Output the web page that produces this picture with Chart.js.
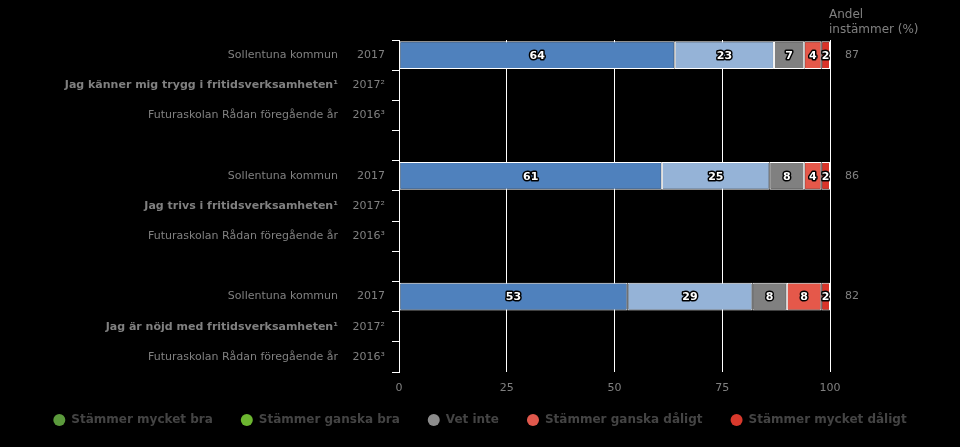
<!DOCTYPE html>
<html>
<head>
<meta charset="utf-8">
<script src="https://cdn.jsdelivr.net/npm/chart.js@4.4.0/dist/chart.umd.min.js"></script>
<style>
  html, body { margin: 0; padding: 0; background: #000; }
</style>
</head>
<body>
<canvas id="myChart" width="960" height="447"></canvas>
<script>
// rows of the chart, top to bottom (empty rows are spacers)
const names = ['Sollentuna kommun', 'Jag känner mig trygg i fritidsverksamheten¹', 'Futuraskolan Rådan föregående år', '',
               'Sollentuna kommun', 'Jag trivs i fritidsverksamheten¹', 'Futuraskolan Rådan föregående år', '',
               'Sollentuna kommun', 'Jag är nöjd med fritidsverksamheten¹', 'Futuraskolan Rådan föregående år']
const years = ['2017', '2017²', '2016³', '',
               '2017', '2017²', '2016³', '',
               '2017', '2017²', '2016³']

const seriesNames = ['Stämmer mycket bra', 'Stämmer ganska bra', 'Vet inte', 'Stämmer ganska dåligt', 'Stämmer mycket dåligt']
const mycketBra    = [64, null, null, null, 61, null, null, null, 53, null, null]
const ganskaBra    = [23, null, null, null, 25, null, null, null, 29, null, null]
const vetInte      = [7, null, null, null, 8, null, null, null, 8, null, null]
const ganskaDaligt = [4, null, null, null, 4, null, null, null, 8, null, null]
const mycketDaligt = [2, null, null, null, 2, null, null, null, 2, null, null]
const andel        = [87, null, null, null, 86, null, null, null, 82, null, null]
const xTicks = [0, 25, 50, 75, 100]

const barColors = ['#4f81bd', '#95b3d7', '#808080', '#e5584a', '#d9342a']
const legendColors = ['#5b9a3c', '#6cb630', '#8c8c8c', '#e0584c', '#d8392c']

Chart.defaults.font.family = '"DejaVu Sans"'

const barLabels = {
    id: 'barLabels',
    afterDatasetsDraw(chart) {
        const ctx = chart.ctx
        ctx.save()
        ctx.font = 'bold 11px "DejaVu Sans"'
        ctx.textAlign = 'center'
        ctx.textBaseline = 'middle'
        ctx.lineJoin = 'round'
        chart.data.datasets.forEach((ds, i) => {
            chart.getDatasetMeta(i).data.forEach((bar, j) => {
                const v = ds.data[j]
                if (v == null) return
                const x = (bar.x + bar.base) / 2
                ctx.lineWidth = 3
                ctx.strokeStyle = '#000'
                ctx.strokeText(v, x, bar.y + 1)
                ctx.fillStyle = '#fff'
                ctx.fillText(v, x, bar.y + 1)
            })
        })

        // right hand column
        const area = chart.chartArea
        const y = chart.scales.y
        ctx.textAlign = 'left'
        ctx.fillStyle = '#808080'
        ctx.font = '12px "DejaVu Sans"'
        ctx.fillText('Andel', area.right - 1, 15)
        ctx.fillText('instämmer (%)', area.right - 1, 30)
        ctx.font = '11px "DejaVu Sans"'
        ctx.textAlign = 'center'
        andel.forEach((v, i) => {
            if (v == null) return
            ctx.fillText(v, area.right + 22, y.getPixelForValue(i))
        })
        ctx.restore()
    }
}

// move the legend a bit closer to the axis
const legendShift = {
    id: 'legendShift',
    afterLayout(chart) {
        chart.legend.top -= 11
        chart.legend.bottom -= 11
    }
}

const ctx = document.getElementById('myChart')
const data = [mycketBra, ganskaBra, vetInte, ganskaDaligt, mycketDaligt]

new Chart(ctx, {
    type: 'bar',
    data: {
        labels: names,
        datasets: seriesNames.map((n, i) => ({
            label: n,
            data: data[i],
            backgroundColor: barColors[i],
            borderColor: '#fff',
            borderWidth: 1,
            borderSkipped: false,
            categoryPercentage: 1,
            barPercentage: 0.92
        }))
    },
    plugins: [barLabels, legendShift],
    options: {
        responsive: false,
        animation: false,
        indexAxis: 'y',
        layout: { padding: { top: 40, right: 0, left: 0, bottom: 0 } },
        scales: {
            x: {
                stacked: true,
                min: 0,
                max: 100,
                afterBuildTicks: s => { s.ticks = xTicks.map(v => ({ value: v })) },
                ticks: { color: '#808080', font: { size: 11 }, padding: 10 },
                grid: { color: '#fff', drawTicks: false },
                border: { display: false },
                afterFit: s => { s.height = 25 }
            },
            y: {
                stacked: true,
                offset: true,
                labels: years,
                weight: 0,
                ticks: { autoSkip: false, color: '#808080', font: { size: 11 }, padding: 7 },
                grid: { color: '#fff', drawOnChartArea: false, tickLength: 7, offset: true },
                border: { color: '#fff' },
                afterFit: s => { s.width = 54 }
            },
            yName: {
                type: 'category',
                position: 'left',
                offset: true,
                labels: names,
                weight: 1,
                ticks: {
                    autoSkip: false,
                    color: '#808080',
                    padding: 7,
                    font: c => ({ size: 11, weight: c.index % 4 === 1 ? 'bold' : 'normal' })
                },
                grid: { display: false, drawTicks: false },
                border: { display: false },
                afterFit: s => { s.width = 345 }
            },
            // empty right axis that keeps room for the "Andel instämmer" column
            yRight: {
                type: 'category',
                position: 'right',
                labels: andel.map(() => ''),
                ticks: { display: false },
                grid: { display: false, drawTicks: false },
                border: { display: false },
                afterFit: s => { s.width = 130 }
            }
        },
        plugins: {
            tooltip: { enabled: false },
            legend: {
                position: 'bottom',
                labels: {
                    usePointStyle: true,
                    boxWidth: 12,
                    boxHeight: 8.5,
                    padding: 28,
                    color: '#444',
                    font: { size: 12, weight: 'bold' },
                    generateLabels: () => seriesNames.map((n, i) => ({
                        text: n,
                        fillStyle: legendColors[i],
                        strokeStyle: legendColors[i],
                        lineWidth: 0,
                        pointStyle: 'circle',
                        fontColor: '#444',
                        datasetIndex: i,
                        hidden: false
                    }))
                }
            }
        }
    }
})
</script>
</body>
</html>
